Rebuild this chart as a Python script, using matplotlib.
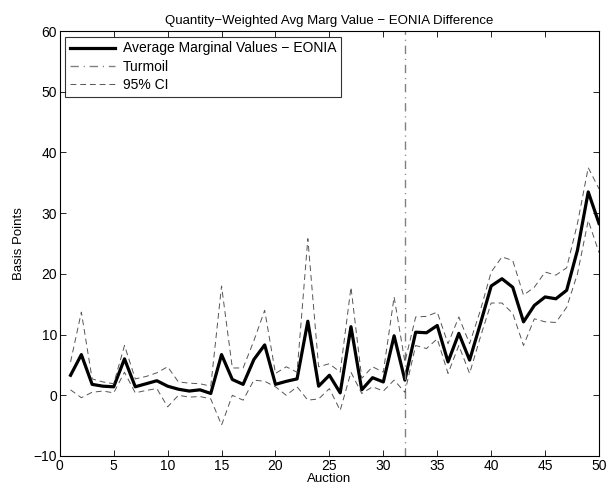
import matplotlib
matplotlib.use("Agg")
import matplotlib.pyplot as plt

plt.rcParams['font.family'] = ['Liberation Sans', 'DejaVu Sans']

auction = list(range(1, 51))

avg_marg = [3.3, 6.7, 1.8, 1.5, 1.4, 6.0, 1.4, 1.9, 2.4, 1.5,
            1.0, 0.7, 0.9, 0.3, 6.7, 2.6, 1.8, 5.9, 8.3, 1.8,
            2.3, 2.7, 12.2, 1.5, 3.3, 0.4, 11.3, 0.9, 2.9, 2.2,
            9.8, 2.5, 10.4, 10.3, 11.5, 5.5, 10.2, 5.8, 11.8, 18.0,
            19.2, 17.8, 12.1, 14.8, 16.2, 15.9, 17.3, 23.9, 33.5, 28.3]

ci_upper = [5.5, 13.7, 2.7, 2.2, 1.9, 8.2, 2.7, 3.1, 3.7, 4.7,
            2.2, 2.0, 1.9, 1.5, 18.0, 4.5, 4.5, 9.0, 14.0, 3.6,
            4.7, 3.8, 25.8, 4.7, 5.2, 3.8, 17.8, 2.8, 4.7, 3.8,
            16.2, 5.5, 12.9, 13.0, 13.7, 8.5, 12.9, 8.5, 14.0, 20.3,
            22.8, 22.2, 16.5, 17.8, 20.3, 19.8, 21.0, 28.3, 37.5, 34.0]

ci_lower = [0.9, -0.4, 0.5, 0.7, 0.4, 3.8, 0.4, 0.8, 1.1, -1.9,
            0.0, -0.3, -0.2, -0.6, -4.9, 0.0, -0.8, 2.5, 2.3, 1.4,
            0.0, 1.4, -0.8, -0.6, 1.1, -2.5, 3.8, 0.3, 1.4, 0.7,
            2.5, 0.5, 8.2, 7.7, 9.3, 3.6, 8.2, 3.6, 9.6, 15.2,
            15.2, 13.5, 8.2, 12.6, 12.1, 12.0, 14.5, 20.0, 28.8, 23.5]

turmoil_auction = 32

fig = plt.figure(figsize=(6.1, 4.97), dpi=100)
ax = fig.add_axes([0.098, 0.0825, 0.884, 0.855])

ax.plot(auction, avg_marg, color="black", linewidth=2.3,
        label="Average Marginal Values \u2212 EONIA")
ax.plot([turmoil_auction, turmoil_auction], [-10, 60], color="#808080",
        linestyle=(0, (6, 3.5, 0.8, 3.5)), linewidth=1.0, label="Turmoil")
ax.plot(auction, ci_upper, color="#555555", linestyle=(0, (6, 4)),
        linewidth=0.7, label="95% CI")
ax.plot(auction, ci_lower, color="#555555", linestyle=(0, (6, 4)),
        linewidth=0.7)

ax.set_xlim(0, 50)
ax.set_ylim(-10, 60)
ax.set_xticks(range(0, 51, 5))
ax.set_yticks(range(-10, 61, 10))
ax.tick_params(direction="in", top=True, right=True, labelsize=10,
               length=4, width=0.6, pad=2)
for s in ax.spines.values():
    s.set_linewidth(0.8)

ax.set_xlabel("Auction", fontsize=9.5, labelpad=0)
ax.set_ylabel("Basis Points", fontsize=9.5, labelpad=6)
ax.set_title("Quantity\u2212Weighted Avg Marg Value \u2212 EONIA Difference",
             fontsize=9.5, pad=5)

leg = ax.legend(loc="upper left", fontsize=10, frameon=True, fancybox=False,
                edgecolor="black", borderaxespad=0.4, handlelength=3.2,
                labelspacing=0.3, borderpad=0.35, handletextpad=0.6)
leg.get_frame().set_linewidth(0.8)

fig.savefig("out.png", dpi=100)
